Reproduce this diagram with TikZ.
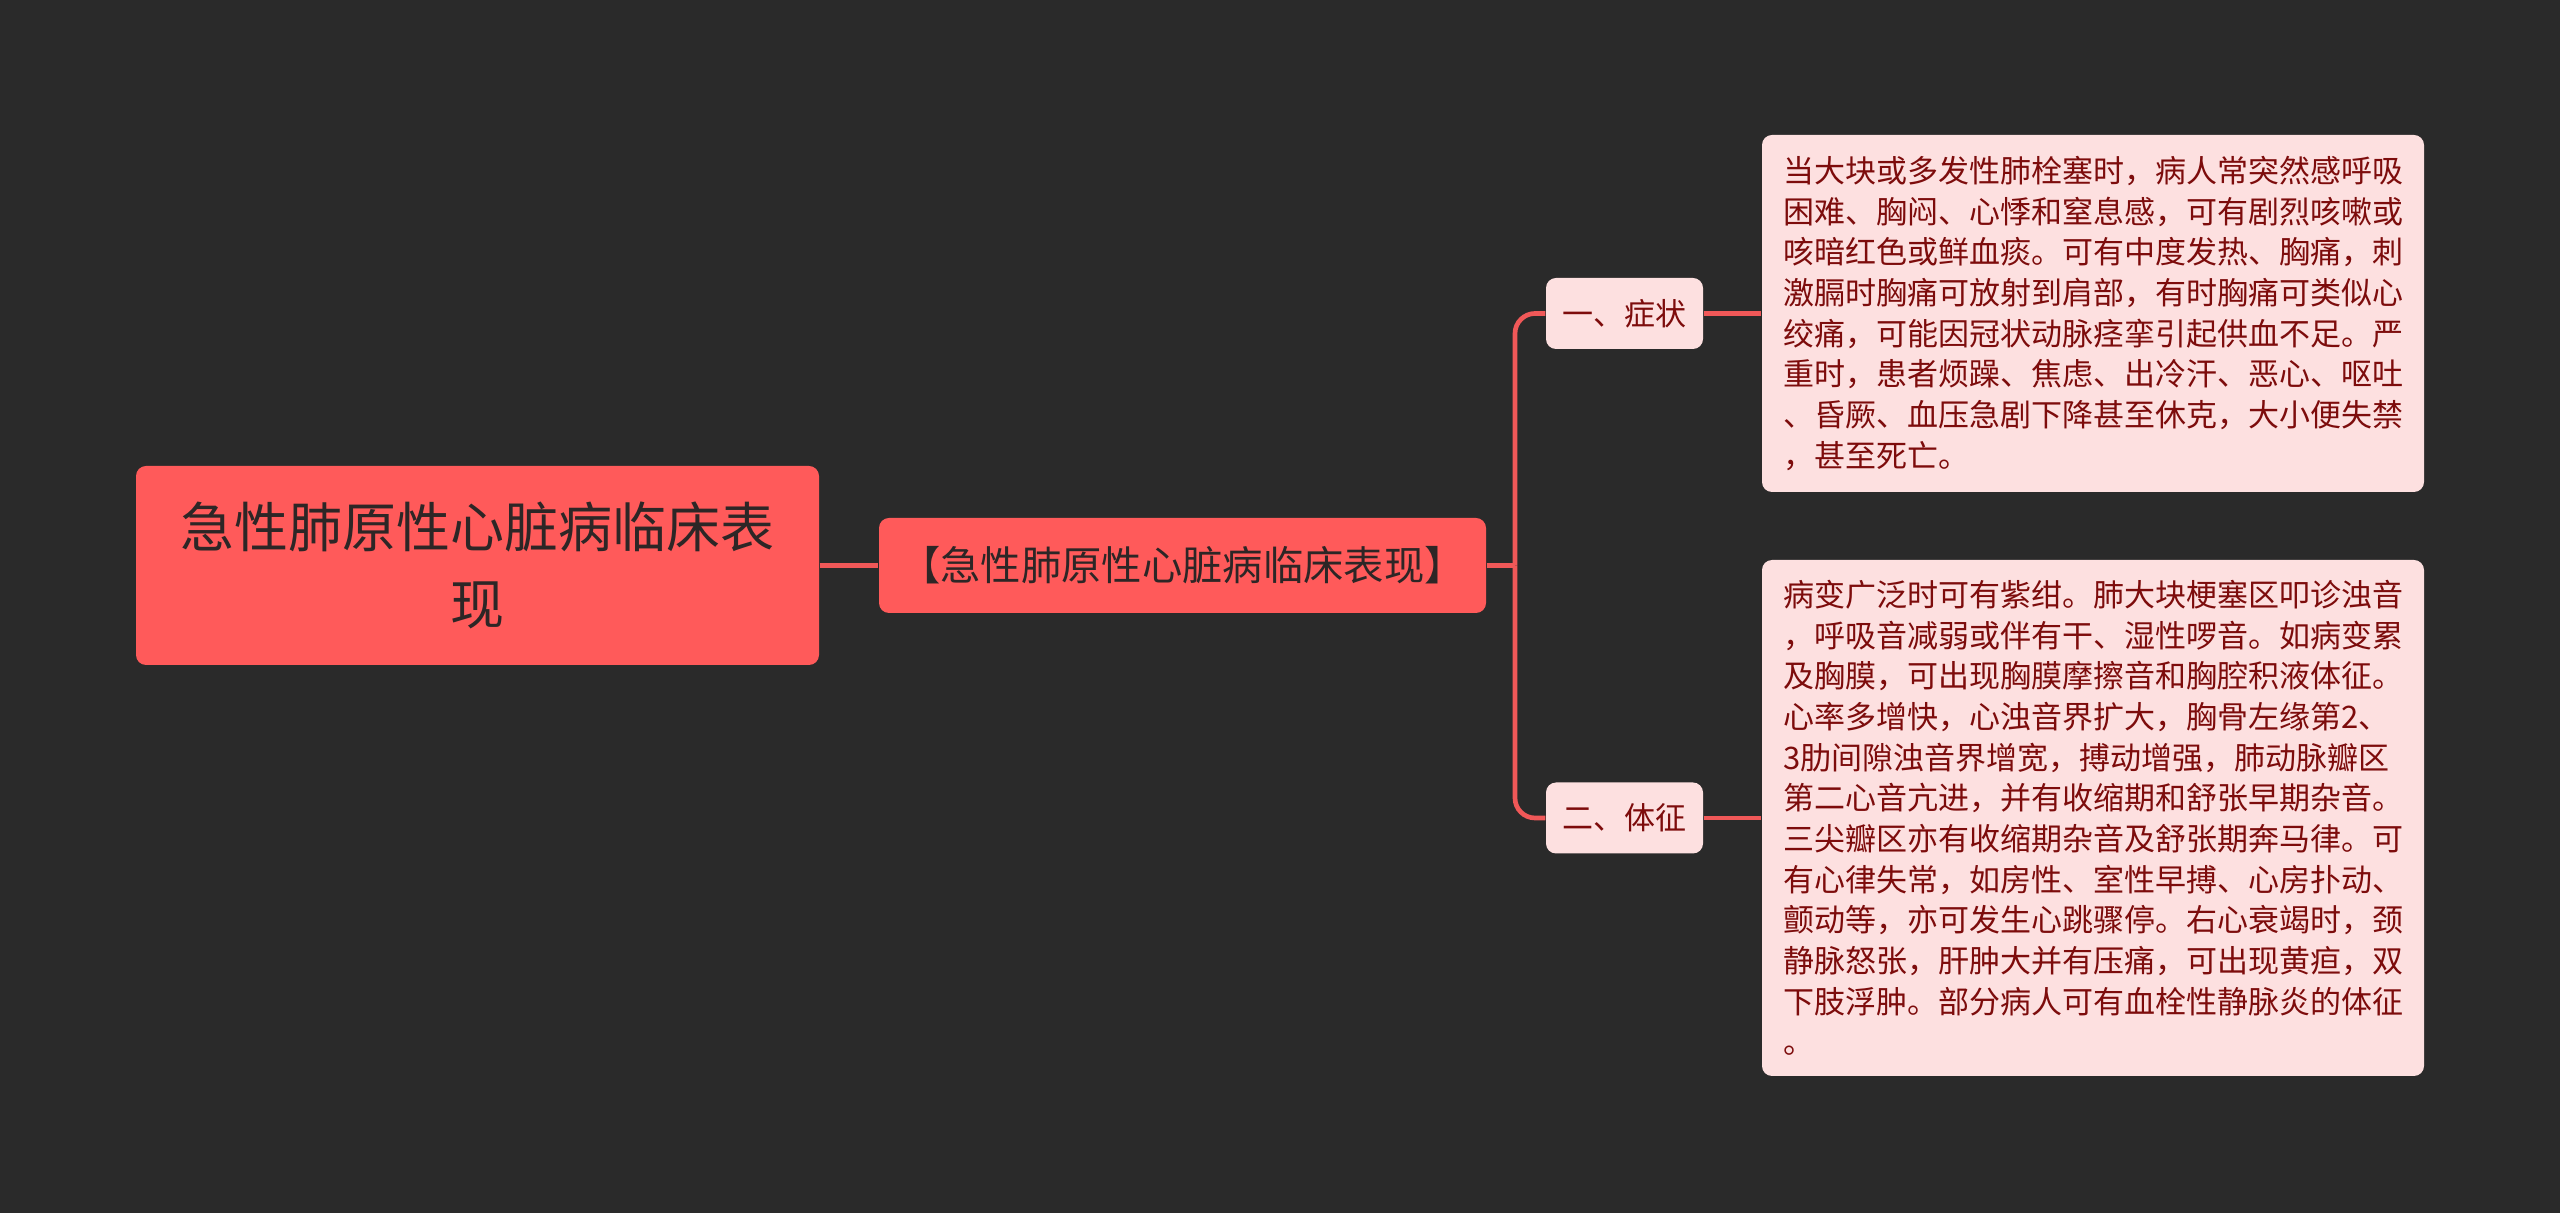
\documentclass[tikz,border=0pt]{standalone}
\usepackage{fontspec}
\setmainfont{Noto Sans CJK SC}
\definecolor{bgcol}{RGB}{42,42,42}
\definecolor{redcol}{RGB}{255,90,90}
\definecolor{linecol}{RGB}{240,88,88}
\definecolor{pinkcol}{RGB}{253,224,224}
\definecolor{darkred}{RGB}{125,12,12}
\definecolor{inkcol}{RGB}{45,38,38}

\begin{document}
\begin{tikzpicture}[x=0.3pt,y=-0.3pt,
	rootbox/.style={fill=redcol,rounded corners=3pt,inner sep=0pt,text=inkcol,align=center,
		font=\fontsize{16.2}{23}\selectfont,minimum width=204.9pt,minimum height=59.7pt},
	midbox/.style={fill=redcol,rounded corners=3pt,inner sep=0pt,text=inkcol,
		font=\fontsize{12.1}{14}\selectfont,minimum width=182.1pt,minimum height=28.5pt},
	tagbox/.style={fill=pinkcol,rounded corners=3pt,inner sep=0pt,text=darkred,
		font=\fontsize{9.3}{12}\selectfont,minimum width=47.1pt,minimum height=21.3pt},
	textbox/.style={fill=pinkcol,rounded corners=3pt,inner sep=0pt,text=darkred,align=left,
		font=\fontsize{9.3}{12.2}\selectfont,minimum width=198.6pt},
	link/.style={draw=linecol,line width=1.4pt}]
	\fill[bgcol] (0,0) rectangle (2560,1213);
	% root and title
	\node[rootbox] (root) at (477.5,565.5) {急性肺原性心脏病临床表\\现};
	\node[midbox] (title) at (1182.5,565.5) {【急性肺原性心脏病临床表现】};
	% branches
	\node[tagbox] (sym) at (1624.5,313.5) {一、症状};
	\node[tagbox] (sign) at (1624.5,818) {二、体征};
	% details
	\node[textbox,minimum height=107.1pt] (symtext) at (2093,313.5) {当大块或多发性肺栓塞时，病人常突然感呼吸\\
困难、胸闷、心悸和窒息感，可有剧烈咳嗽或\\
咳暗红色或鲜血痰。可有中度发热、胸痛，刺\\
激膈时胸痛可放射到肩部，有时胸痛可类似心\\
绞痛，可能因冠状动脉痉挛引起供血不足。严\\
重时，患者烦躁、焦虑、出冷汗、恶心、呕吐\\
、昏厥、血压急剧下降甚至休克，大小便失禁\\
，甚至死亡。};
	\node[textbox,minimum height=154.8pt] (signtext) at (2093,818) {病变广泛时可有紫绀。肺大块梗塞区叩诊浊音\\
，呼吸音减弱或伴有干、湿性啰音。如病变累\\
及胸膜，可出现胸膜摩擦音和胸腔积液体征。\\
心率多增快，心浊音界扩大，胸骨左缘第2、\\
3肋间隙浊音界增宽，搏动增强，肺动脉瓣区\\
第二心音亢进，并有收缩期和舒张早期杂音。\\
三尖瓣区亦有收缩期杂音及舒张期奔马律。可\\
有心律失常，如房性、室性早搏、心房扑动、\\
颤动等，亦可发生心跳骤停。右心衰竭时，颈\\
静脉怒张，肝肿大并有压痛，可出现黄疸，双\\
下肢浮肿。部分病人可有血栓性静脉炎的体征\\
。};
	% connectors
	\coordinate (fork) at (1515,565.5);
	\draw[link] (root.east) -- (title.west);
	\draw[link] (title.east) -- (fork);
	\draw[link,rounded corners=6pt] (fork) |- (sym.west);
	\draw[link,rounded corners=6pt] (fork) |- (sign.west);
	\draw[link] (sym.east) -- (sym.east -| symtext.west);
	\draw[link] (sign.east) -- (sign.east -| signtext.west);
\end{tikzpicture}
\end{document}
